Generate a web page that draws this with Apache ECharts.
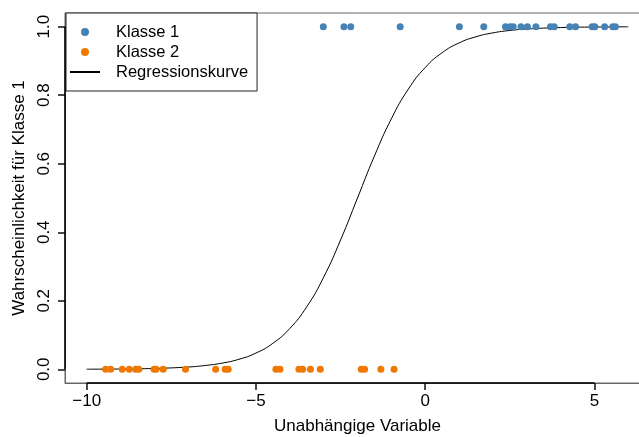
<!DOCTYPE html>
<html>
<head>
<meta charset="utf-8">
<script src="https://cdn.jsdelivr.net/npm/echarts@6/dist/echarts.min.js"></script>
<style>html,body{margin:0;padding:0;background:#fff}#c{width:639px;height:437px}</style>
</head>
<body>
<div id="c"></div>
<script>
// Data
const class1X = [-3.01, -2.40, -2.20, -0.74, 1.01, 1.73, 2.37, 2.51, 2.60, 2.83, 3.02, 3.27, 3.70, 3.81, 4.27, 4.44, 4.93, 5.01, 5.30, 5.54, 5.62];
const class2X = [-9.44, -9.29, -8.95, -8.74, -8.55, -8.46, -8.01, -7.95, -7.74, -7.08, -6.19, -5.91, -5.82, -4.41, -4.29, -3.73, -3.62, -3.39, -3.10, -1.89, -1.79, -1.31, -0.92];
const curveX = [-10, -9, -8, -7, -6.5, -6, -5.5, -5, -4.5, -4, -3.5, -3, -2.5, -2, -1.5, -1, -0.5, 0, 0.5, 1, 1.5, 2, 2.5, 3, 4, 5, 6];
const curveY = [0.0003, 0.0009, 0.0025, 0.0067, 0.0111, 0.018, 0.0293, 0.0474, 0.0759, 0.1192, 0.1824, 0.2689, 0.3775, 0.5, 0.6225, 0.7311, 0.8176, 0.8808, 0.9241, 0.9526, 0.9707, 0.982, 0.989, 0.9933, 0.9975, 0.9991, 0.9997];
const xTicks = [-10, -5, 0, 5];
const yTicks = [0, 0.2, 0.4, 0.6, 0.8, 1.0];
const seriesNames = ['Klasse 1', 'Klasse 2', 'Regressionskurve'];
const xTitle = 'Unabhängige Variable';
const yTitle = 'Wahrscheinlichkeit für Klasse 1';

const FONT = 'Liberation Sans, Arial, sans-serif';
const xMin = -10.64, xMax = 6.64, yMin = -0.04, yMax = 1.04;

const chart = echarts.init(document.getElementById('c'), null, {renderer: 'canvas'});
chart.setOption({
  animation: false,
  backgroundColor: '#fff',
  grid: [{left: 65, top: 13, width: 585, height: 370, show: true, borderColor: '#666', outerBoundsMode: 'none'}],
  xAxis: [{
    type: 'value', min: xMin, max: xMax,
    axisLine: {show: true, onZero: false, lineStyle: {color: '#666'}}, splitLine: {show: false},
    axisTick: {show: true, customValues: xTicks, length: 7, lineStyle: {color: '#111', width: 1.5}},
    axisLabel: {customValues: xTicks, margin: 10, fontSize: 17, color: '#000', fontFamily: FONT,
      formatter: v => String(v).replace('-', '\u2212')},
    name: xTitle, nameLocation: 'middle', nameGap: 35,
    nameTextStyle: {fontSize: 17, color: '#000', fontFamily: FONT}
  }],
  yAxis: [{
    type: 'value', min: yMin, max: yMax,
    axisLine: {show: true, onZero: false, lineStyle: {color: '#666'}}, splitLine: {show: false},
    axisTick: {show: true, customValues: yTicks, length: 7, lineStyle: {color: '#111', width: 1.5}},
    axisLabel: {customValues: yTicks, rotate: 90, margin: 12, fontSize: 17, color: '#000', fontFamily: FONT,
      formatter: v => Number(v).toFixed(1)},
    name: yTitle, nameLocation: 'middle', nameGap: 26,
    nameTextStyle: {fontSize: 17, color: '#000', fontFamily: FONT}
  }],
  legend: {
    orient: 'vertical', left: 66, top: 13,
    padding: [9, 9, 9, 3], itemWidth: 30, itemHeight: 8, itemGap: 0,
    borderColor: '#222', borderWidth: 1, backgroundColor: '#fff',
    textStyle: {fontSize: 16.5, lineHeight: 20, color: '#000', fontFamily: FONT, padding: [0, 0, 0, 11]},
    data: [
      {name: seriesNames[0], icon: 'circle'},
      {name: seriesNames[1], icon: 'circle'},
      {name: seriesNames[2], itemStyle: {color: 'rgba(0,0,0,0)', borderWidth: 0, opacity: 0}}
    ]
  },
  series: [
    {
      name: seriesNames[0], type: 'scatter', symbol: 'circle', symbolSize: 7,
      itemStyle: {color: '#4682B4', opacity: 1},
      data: class1X.map(x => [x, 1])
    },
    {
      name: seriesNames[1], type: 'scatter', symbol: 'circle', symbolSize: 7,
      itemStyle: {color: '#F07800', opacity: 1},
      data: class2X.map(x => [x, 0])
    },
    {
      name: seriesNames[2], type: 'line', symbol: 'none', smooth: true, z: 1,
      lineStyle: {color: '#000', width: 1},
      itemStyle: {color: '#000'},
      data: curveX.map((x, i) => [x, curveY[i]]),
      markLine: {
        silent: true, symbol: 'none', label: {show: false},
        lineStyle: {color: '#000', width: 1.5, type: 'solid'},
        data: [
          [{coord: [xTicks[0], yMin]}, {coord: [xTicks[xTicks.length - 1], yMin]}],
          [{coord: [xMin, yTicks[0]]}, {coord: [xMin, yTicks[yTicks.length - 1]]}]
        ]
      }
    }
  ]
});
</script>
</body>
</html>
